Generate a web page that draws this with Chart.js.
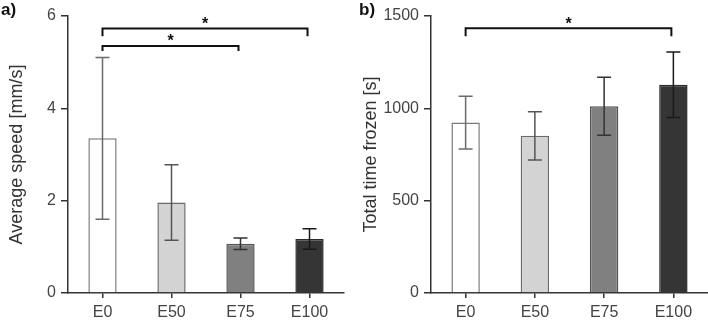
<!DOCTYPE html>
<html>
<head>
<meta charset="utf-8">
<script src="https://cdn.jsdelivr.net/npm/chart.js@4/dist/chart.umd.min.js"></script>
<style>
  html, body { margin: 0; padding: 0; background: #fff; }
  #wrap { position: relative; width: 708px; height: 320px; overflow: hidden; }
  .panel { position: absolute; top: 0; width: 354px; height: 320px; }
  .tag {
    position: absolute; top: 0; font: bold 17px "Liberation Sans", Arial, sans-serif;
    color: #111;
  }
</style>
</head>
<body>
<div id="wrap">
  <div class="panel" style="left:0"><canvas id="chartA" width="354" height="320"></canvas></div>
  <div class="panel" style="left:354px"><canvas id="chartB" width="354" height="320"></canvas></div>
  <div class="tag" style="left:1px">a)</div>
  <div class="tag" style="left:359px">b)</div>
</div>
<script>
// Dados
const grupos = ["E0", "E50", "E75", "E100"];

const velocidadeMedia = [3.35, 1.96, 1.065, 1.17];
const velocidadeErro = [1.75, 0.82, 0.125, 0.22];

const tempoCongelado = [923, 851, 1011, 1128];
const tempoErro = [143, 131, 157, 177];

const ticksVelocidade = [0, 2, 4, 6];
const ticksTempo = [0, 500, 1000, 1500];

// Colchetes de significância: [de, até, altura, altura das pontas]
const colchetesVelocidade = [
  [0, 3, 5.73, 5.56],
  [0, 2, 5.35, 5.24],
];
const colchetesTempo = [[0, 3, 1433, 1391]];

// Estilos
const corBarras = ["#ffffff", "#d3d3d3", "#808080", "#353535"];
const corBordas = ["#7a7a7a", "#6a6a6a", "#555555", "#2a2a2a"];
const corErros = ["#6a6a6a", "#555555", "#333333", "#1a1a1a"];

Chart.defaults.font.family = '"Liberation Sans", Arial, sans-serif';

// Plugin para desenhar as barras de erro
const errorBarsPlugin = {
  id: "errorBars",
  afterDatasetsDraw(chart, args, opts) {
    const ctx = chart.ctx;
    const x = chart.scales.x;
    const y = chart.scales.y;
    const medias = chart.data.datasets[0].data;
    ctx.save();
    ctx.lineWidth = 1.5;
    opts.errors.forEach((e, i) => {
      const px = x.getPixelForValue(i);
      const yHi = y.getPixelForValue(medias[i] + e);
      const yLo = y.getPixelForValue(medias[i] - e);
      ctx.strokeStyle = corErros[i];
      ctx.beginPath();
      ctx.moveTo(px, yHi);
      ctx.lineTo(px, yLo);
      ctx.moveTo(px - 7, yHi);
      ctx.lineTo(px + 7, yHi);
      ctx.moveTo(px - 7, yLo);
      ctx.lineTo(px + 7, yLo);
      ctx.stroke();
    });
    ctx.restore();
  },
};

// Plugin para os colchetes com asterisco
const bracketsPlugin = {
  id: "brackets",
  afterDraw(chart, args, opts) {
    const ctx = chart.ctx;
    const x = chart.scales.x;
    const y = chart.scales.y;
    ctx.save();
    ctx.strokeStyle = "#111";
    ctx.fillStyle = "#111";
    ctx.lineWidth = 2;
    opts.items.forEach(([de, ate, alt, ponta]) => {
      const x1 = x.getPixelForValue(de);
      const x2 = x.getPixelForValue(ate) - 2;
      const yl = y.getPixelForValue(alt);
      const yp = y.getPixelForValue(ponta);
      ctx.beginPath();
      ctx.moveTo(x1, yp);
      ctx.lineTo(x1, yl);
      ctx.lineTo(x2, yl);
      ctx.lineTo(x2, yp);
      ctx.stroke();
      ctx.font = 'bold 16px "Liberation Sans", Arial, sans-serif';
      ctx.textAlign = "center";
      ctx.textBaseline = "middle";
      ctx.fillText("*", (x1 + x2) / 2, yl - 4);
    });
    ctx.restore();
  },
};

function criarGrafico(id, medias, erros, colchetes, max, passo, titulo, larguraEixo, direita) {
  return new Chart(document.getElementById(id), {
    type: "bar",
    data: {
      labels: grupos,
      datasets: [
        {
          data: medias,
          backgroundColor: corBarras,
          borderColor: corBordas,
          borderWidth: 1.5,
          categoryPercentage: 1,
          barPercentage: 0.41,
        },
      ],
    },
    options: {
      responsive: false,
      animation: false,
      layout: { padding: { top: 16, right: direita, left: 0, bottom: 0 } },
      plugins: {
        legend: { display: false },
        tooltip: { enabled: false },
        errorBars: { errors: erros },
        brackets: { items: colchetes },
      },
      scales: {
        x: {
          grid: { drawOnChartArea: false, offset: false, tickLength: 5, color: "#333", lineWidth: 1.5 },
          border: { color: "#333", width: 1.5 },
          ticks: { color: "#444", font: { size: 16 }, padding: 5, maxRotation: 0 },
          afterFit: (s) => { s.height = 27; },
        },
        y: {
          min: 0,
          max: max,
          ticks: {
            stepSize: passo,
            color: "#444",
            font: { size: 16 },
            padding: 5,
            callback: (v) => String(v),
          },
          grid: { drawOnChartArea: false, tickLength: 7, color: "#333", lineWidth: 1.5 },
          border: { color: "#333", width: 1.5 },
          title: {
            display: true,
            text: titulo,
            color: "#333",
            font: { size: 18 },
            padding: { top: 6, bottom: 0 },
          },
          afterFit: (s) => { s.width = larguraEixo; },
        },
      },
    },
    plugins: [errorBarsPlugin, bracketsPlugin],
  });
}

criarGrafico("chartA", velocidadeMedia, velocidadeErro, colchetesVelocidade,
  ticksVelocidade[ticksVelocidade.length - 1], ticksVelocidade[1], "Average speed [mm/s]", 68, 10);
criarGrafico("chartB", tempoCongelado, tempoErro, colchetesTempo,
  ticksTempo[ticksTempo.length - 1], ticksTempo[1], "Total time frozen [s]", 77, 0);
</script>
</body>
</html>
